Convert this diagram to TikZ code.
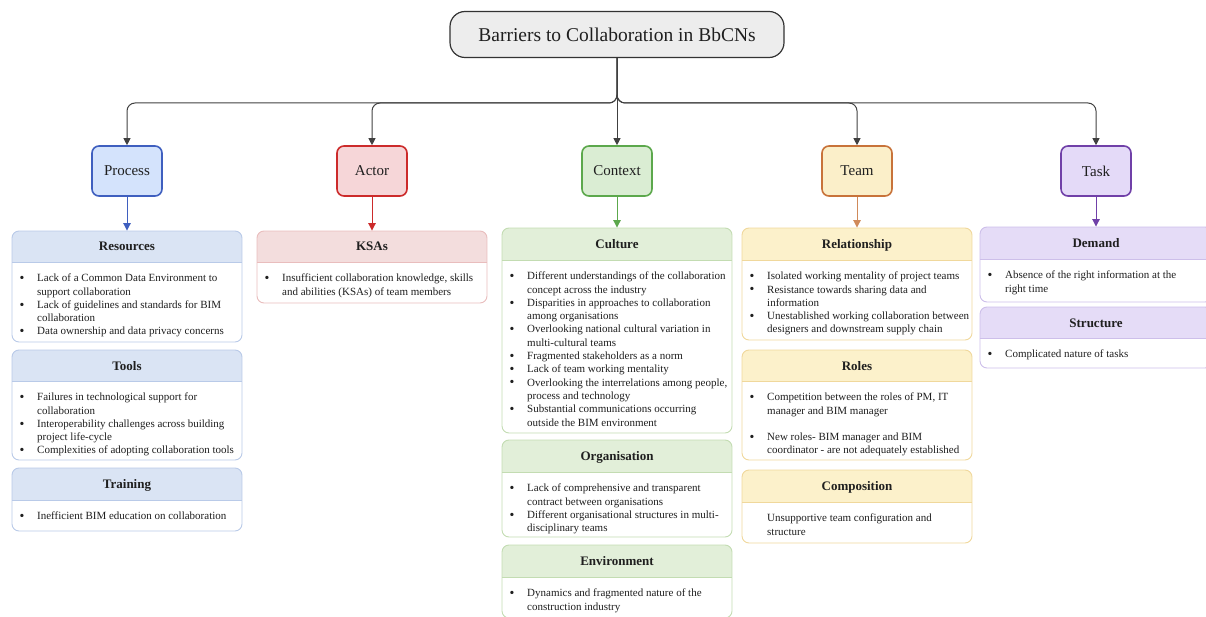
\documentclass[tikz,border=0pt]{standalone}
\usepackage{fontspec}
\setmainfont{Liberation Serif}
\usetikzlibrary{arrows.meta,fit}

% palette
\definecolor{ink}{HTML}{1F1F1F}
\definecolor{connink}{HTML}{404040}
\definecolor{titlefill}{HTML}{EDEDED}
\definecolor{titleline}{HTML}{333333}
\definecolor{bluefill}{HTML}{D4E3FC}
\definecolor{blueline}{HTML}{3F5FBF}
\definecolor{bluehd}{HTML}{DAE4F4}
\definecolor{blueln}{HTML}{B9CAE8}
\definecolor{redfill}{HTML}{F6D6D8}
\definecolor{redline}{HTML}{CC2B2B}
\definecolor{redhd}{HTML}{F3DDDD}
\definecolor{redln}{HTML}{E9BDBD}
\definecolor{greenfill}{HTML}{DAEDD3}
\definecolor{greenline}{HTML}{5CA84C}
\definecolor{greenhd}{HTML}{E2EFD9}
\definecolor{greenln}{HTML}{C3DCB2}
\definecolor{yellowfill}{HTML}{FBEFC9}
\definecolor{yellowline}{HTML}{C8733A}
\definecolor{yellowarrow}{HTML}{D08A5A}
\definecolor{yellowhd}{HTML}{FCF1CB}
\definecolor{yellowln}{HTML}{F0D89C}
\definecolor{purplefill}{HTML}{E4DAF8}
\definecolor{purpleline}{HTML}{7040A8}
\definecolor{purplehd}{HTML}{E5DCF7}
\definecolor{purpleln}{HTML}{CDBFEA}

% bulleted body text
\newcommand{\blist}[1]{\begin{tabular}{@{}p{17pt}@{}l@{}}#1\end{tabular}}
\newcommand{\bitem}[1]{\hspace*{-0.5pt}\raisebox{-0.7pt}{\scalebox{1.25}{\textbullet}} & #1\\}
\newcommand{\bmore}[1]{& #1\\}

% sub-category card: name, palette, left, right, top, header bottom, bottom, title, body
\newcommand{\subbox}[9]{%
  \begin{scope}
    \clip[rounded corners=7pt] (#3,#5) rectangle (#4,#7);
    \fill[#2hd] (#3,#5) rectangle (#4,#6);
    \fill[white] (#3,#6) rectangle (#4,#7);
    \draw[#2ln, line width=0.9pt] (#3,#6) -- (#4,#6);
  \end{scope}
  \node[fit={(#3,#5) (#4,#7)}, inner sep=0pt, draw=#2ln, line width=0.9pt,
        rounded corners=7pt] (#1) {};
  \node[headtext, anchor=base] at ({(#3+#4)/2},{(#5+#6)/2+4.5}) {#8};
  \node[bodytext, anchor=north west] at (#3+8,#6+10.2) {#9};
}

\begin{document}
\begin{tikzpicture}[x=1pt,y=-1pt,
  titlebox/.style={draw=titleline, fill=titlefill, line width=1.2pt,
    rounded corners=15pt, minimum width=334pt, minimum height=46pt,
    inner sep=0pt, text=ink, font=\fontsize{19.5}{23}\selectfont},
  catbox/.style={line width=1.6pt, rounded corners=7pt, minimum width=70pt,
    minimum height=50pt, inner sep=0pt, text=ink,
    font=\fontsize{15}{18}\selectfont},
  headtext/.style={inner sep=0pt, text=ink,
    font=\bfseries\fontsize{13}{15}\selectfont},
  bodytext/.style={inner sep=0pt, text=ink, align=left,
    font=\fontsize{11}{13.3}\selectfont},
  conn/.style={draw=connink, line width=1pt, rounded corners=8pt,
    -{Triangle[length=7pt,width=7pt]}},
  down/.style={line width=1pt, -{Triangle[length=7.5pt,width=7.5pt]}}]

\useasboundingbox (0,0) rectangle (1206,617);

% root
\node[titlebox] (root) at (617,34.5) {Barriers to Collaboration in BbCNs};
\coordinate (bus) at (0,103);

% categories
\node[catbox, fill=bluefill,   draw=blueline]   (process) at (127,171)  {Process};
\node[catbox, fill=redfill,    draw=redline]    (actor)   at (372,171)  {Actor};
\node[catbox, fill=greenfill,  draw=greenline]  (context) at (617,171)  {Context};
\node[catbox, fill=yellowfill, draw=yellowline] (team)    at (857,171)  {Team};
\node[catbox, fill=purplefill, draw=purpleline] (task)    at (1096,171) {Task};

% root to categories
\foreach \c in {process,actor,team,task}
  \draw[conn] (root.south) -- (root.south |- bus) -| (\c.north);
\draw[conn] (root.south) -- (context.north);

% Process
\subbox{resources}{blue}{12}{242}{231}{262}{342}{Resources}{\blist{%
  \bitem{Lack of a Common Data Environment to}
  \bmore{support collaboration}
  \bitem{Lack of guidelines and standards for BIM}
  \bmore{collaboration}
  \bitem{Data ownership and data privacy concerns}}}
\subbox{tools}{blue}{12}{242}{350}{381}{460}{Tools}{\blist{%
  \bitem{Failures in technological support for}
  \bmore{collaboration}
  \bitem{Interoperability challenges across building}
  \bmore{project life-cycle}
  \bitem{Complexities of adopting collaboration tools}}}
\subbox{training}{blue}{12}{242}{468}{500}{531}{Training}{\blist{%
  \bitem{Inefficient BIM education on collaboration}}}

% Actor
\subbox{ksas}{red}{257}{487}{231}{262}{303}{KSAs}{\blist{%
  \bitem{Insufficient collaboration knowledge, skills}
  \bmore{and abilities (KSAs) of team members}}}

% Context
\subbox{culture}{green}{502}{732}{228}{260}{433}{Culture}{\blist{%
  \bitem{Different understandings of the collaboration}
  \bmore{concept across the industry}
  \bitem{Disparities in approaches to collaboration}
  \bmore{among organisations}
  \bitem{Overlooking national cultural variation in}
  \bmore{multi-cultural teams}
  \bitem{Fragmented stakeholders as a norm}
  \bitem{Lack of team working mentality}
  \bitem{Overlooking the interrelations among people,}
  \bmore{process and technology}
  \bitem{Substantial communications occurring}
  \bmore{outside the BIM environment}}}
\subbox{organisation}{green}{502}{732}{440}{472}{537}{Organisation}{\blist{%
  \bitem{Lack of comprehensive and transparent}
  \bmore{contract between organisations}
  \bitem{Different organisational structures in multi-}
  \bmore{disciplinary teams}}}
\subbox{environment}{green}{502}{732}{545}{577}{618}{Environment}{\blist{%
  \bitem{Dynamics and fragmented nature of the}
  \bmore{construction industry}}}

% Team
\subbox{relationship}{yellow}{742}{972}{228}{260}{340}{Relationship}{\blist{%
  \bitem{Isolated working mentality of project teams}
  \bitem{Resistance towards sharing data and}
  \bmore{information}
  \bitem{Unestablished working collaboration between}
  \bmore{designers and downstream supply chain}}}
\subbox{roles}{yellow}{742}{972}{350}{381}{460}{Roles}{\blist{%
  \bitem{Competition between the roles of PM, IT}
  \bmore{manager and BIM manager}
  \bmore{}
  \bitem{New roles- BIM manager and BIM}
  \bmore{coordinator - are not adequately established}}}
\subbox{composition}{yellow}{742}{972}{470}{502}{543}{Composition}{\blist{%
  \bmore{Unsupportive team configuration and}
  \bmore{structure}}}

% Task
\subbox{demand}{purple}{980}{1212}{227}{259}{302}{Demand}{\blist{%
  \bitem{Absence of the right information at the}
  \bmore{right time}}}
\subbox{structure}{purple}{980}{1212}{307}{338}{368}{Structure}{\blist{%
  \bitem{Complicated nature of tasks}}}

% categories to their first card
\draw[down, draw=blueline]   (process.south) -- (resources.north);
\draw[down, draw=redline]    (actor.south)   -- (ksas.north);
\draw[down, draw=greenline]  (context.south) -- (culture.north);
\draw[down, draw=yellowarrow] (team.south)   -- (relationship.north);
\draw[down, draw=purpleline] (task.south)    -- (demand.north);

\end{tikzpicture}
\end{document}
